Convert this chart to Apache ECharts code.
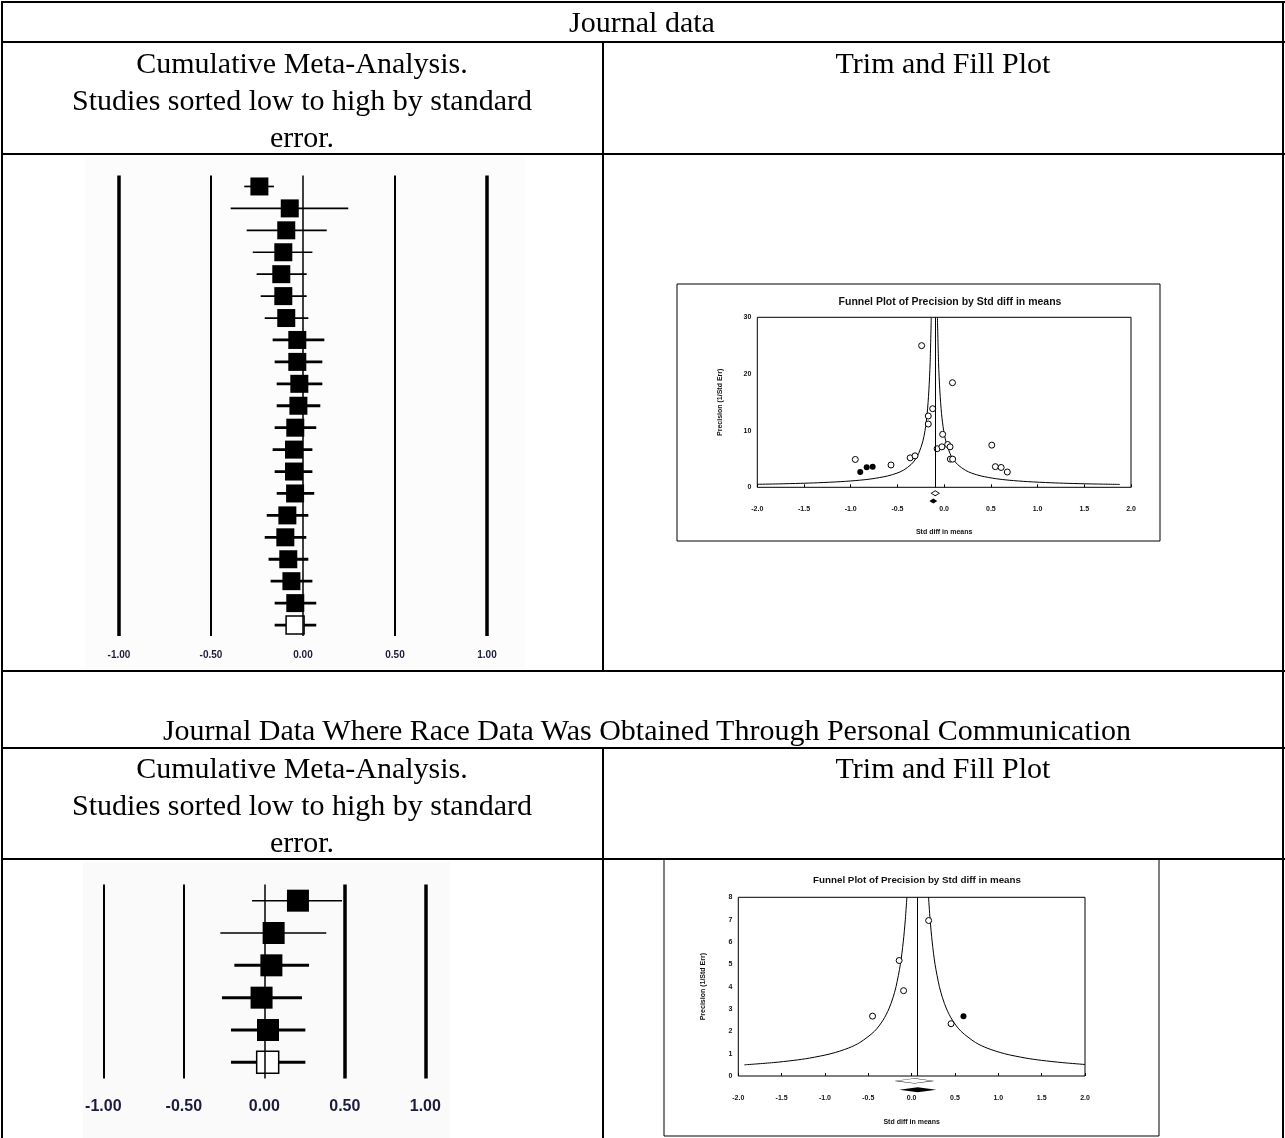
<!DOCTYPE html>
<html>
<head>
<meta charset="utf-8">
<script src="https://cdn.jsdelivr.net/npm/echarts@6/dist/echarts.min.js"></script>
<style>
html,body{margin:0;padding:0;background:#fff;}
#page{position:relative;width:1285px;height:1138px;overflow:hidden;font-family:"Liberation Serif","Times New Roman",serif;}
.ln{position:absolute;background:#000;}
.tx{position:absolute;text-align:center;font-size:30px;line-height:37px;color:#000;white-space:nowrap;}
#chart{position:absolute;left:0;top:0;width:1285px;height:1138px;pointer-events:none;}
</style>
</head>
<body>
<div id="page"><div id="chart"></div></div>
<script>
// ---- forest plot, journal data (cumulative, last row = summary) ----
const topRows = ['1','2','3','4','5','6','7','8','9','10','11','12','13','14','15','16','17','18','19','20','21'];
const topEst  = [-0.237,-0.072,-0.091,-0.107,-0.118,-0.107,-0.091,-0.031,-0.031,-0.020,-0.025,-0.042,-0.049,-0.049,-0.043,-0.085,-0.096,-0.080,-0.063,-0.042,-0.043];
const topLow  = [-0.319,-0.393,-0.306,-0.273,-0.252,-0.230,-0.208,-0.165,-0.154,-0.143,-0.143,-0.154,-0.165,-0.154,-0.143,-0.197,-0.208,-0.187,-0.176,-0.154,-0.154];
const topHigh = [-0.158,0.246,0.129,0.051,0.020,0.020,0.029,0.116,0.105,0.105,0.094,0.072,0.051,0.051,0.061,0.029,0.018,0.029,0.051,0.072,0.072];

// ---- forest plot, personal communication data ----
const botRows = ['1','2','3','4','5','6'];
const botEst  = [0.209,0.058,0.044,-0.017,0.023,0.021];
const botLow  = [-0.076,-0.273,-0.186,-0.263,-0.207,-0.207];
const botHigh = [0.483,0.385,0.278,0.234,0.255,0.255];

const forestTicks = [-1,-0.5,0,0.5,1];

// ---- funnel plot, journal data ----
const topOpen = [[-0.241,25.0],[0.089,18.46],[-0.123,13.87],[-0.170,12.58],[-0.170,11.17],[-0.016,9.35],[-0.075,6.81],[-0.024,7.14],[0.038,7.55],[0.063,7.14],[0.066,4.97],[0.091,4.97],[0.510,7.44],[0.548,3.64],[0.610,3.50],[0.676,2.70],[-0.951,4.91],[-0.569,3.94],[-0.364,5.20],[-0.312,5.55]];
const topFilled = [[-0.898,2.70],[-0.829,3.52],[-0.765,3.64]];
const topMean = -0.105;
const topFunnelLeft = [[-2.0,0.53],[-1.772,0.6],[-1.534,0.7],[-1.355,0.8],[-1.105,1.0],[-0.905,1.25],[-0.772,1.5],[-0.605,2.0],[-0.505,2.5],[-0.438,3.0],[-0.355,4.0],[-0.305,5.0],[-0.272,6.0],[-0.230,8.0],[-0.205,10],[-0.182,13],[-0.164,17],[-0.150,22],[-0.138,30]];
const topFunnelRight = [[-0.072,30],[-0.060,22],[-0.046,17],[-0.028,13],[-0.005,10],[0.020,8],[0.062,6],[0.095,5],[0.145,4],[0.228,3],[0.295,2.5],[0.395,2],[0.562,1.5],[0.695,1.25],[0.895,1],[1.145,0.8],[1.324,0.7],[1.562,0.6],[1.880,0.51]];
const topDiamondObs = [[-0.095,-1.06]];
const topDiamondAdj = [[-0.116,-2.42]];

// ---- funnel plot, personal communication data ----
const botOpen = [[0.196,6.96],[-0.144,5.17],[-0.093,3.82],[-0.451,2.68],[0.455,2.34]];
const botFilled = [[0.598,2.68]];
const botMean = 0.07;
const botFunnelLeft = [[-1.93,0.5],[-1.597,0.6],[-1.359,0.7],[-1.18,0.8],[-0.93,1],[-0.73,1.25],[-0.597,1.5],[-0.43,2],[-0.33,2.5],[-0.263,3],[-0.216,3.5],[-0.18,4],[-0.13,5],[-0.097,6],[-0.073,7],[-0.055,8]];
const botFunnelRight = [[0.195,8],[0.213,7],[0.237,6],[0.27,5],[0.32,4],[0.356,3.5],[0.403,3],[0.47,2.5],[0.57,2],[0.737,1.5],[0.87,1.25],[1.07,1],[1.32,0.8],[1.499,0.7],[1.737,0.6],[2.0,0.515]];
const botDiamondObs = [[0.031,-0.22]];
const botDiamondAdj = [[0.070,-0.61]];

// table lines and header text (plain html)
const page = document.getElementById('page');
function line(x, y, w, h) {
    let d = document.createElement('div');
    d.className = 'ln';
    d.style.left = x + 'px'; d.style.top = y + 'px';
    d.style.width = w + 'px'; d.style.height = h + 'px';
    page.appendChild(d);
}
function text(cx, top, w, html) {
    let d = document.createElement('div');
    d.className = 'tx';
    d.style.left = (cx - w / 2) + 'px'; d.style.top = top + 'px'; d.style.width = w + 'px';
    d.innerHTML = html;
    page.appendChild(d);
}
line(1, 1, 1284, 2);
line(1, 41, 1284, 2);
line(1, 153, 1284, 2);
line(1, 670, 1284, 2);
line(1, 747, 1284, 2);
line(1, 858, 1284, 2);
line(1, 1, 2, 1137);
line(1282, 1, 2, 1137);
line(602, 41, 2, 630);
line(602, 747, 2, 391);

text(642, 3, 400, 'Journal data');
text(302, 44, 600, 'Cumulative Meta-Analysis.<br>Studies sorted low to high by standard<br>error.');
text(943, 44, 600, 'Trim and Fill Plot');
text(647, 711, 1280, 'Journal Data Where Race Data Was Obtained Through Personal Communication');
text(302, 749, 600, 'Cumulative Meta-Analysis.<br>Studies sorted low to high by standard<br>error.');
text(943, 749, 600, 'Trim and Fill Plot');

// ---- charts ----
const labelColor = '#1c1c3c';
const sans = 'Liberation Sans';

// whiskers of the forest plot
function bars(rows, lo, hi, xi, thickFrom, thin, thick) {
    let data = [];
    for (let i = 0; i < rows.length; i++) {
        data.push([lo[i], hi[i], i]);
    }
    return {
        type: 'custom', xAxisIndex: xi, yAxisIndex: xi, silent: true,
        encode: { x: [0, 1], y: 2 },
        data: data,
        renderItem: function (params, api) {
            let a = api.coord([api.value(0), api.value(2)]);
            let b = api.coord([api.value(1), api.value(2)]);
            return {
                type: 'line',
                shape: { x1: a[0], y1: a[1], x2: b[0], y2: b[1] },
                style: { stroke: '#000', lineWidth: params.dataIndex >= thickFrom ? thick : thin }
            };
        }
    };
}

// boxes of the forest plot + the vertical reference lines
function squares(rows, est, xi, size, refLines) {
    let data = [];
    for (let i = 0; i < rows.length; i++) {
        // last row is the summary -> hollow box
        if (i == rows.length - 1) {
            data.push({ value: [est[i], i], itemStyle: { color: '#fff', borderColor: '#000', borderWidth: 1.5 } });
        } else {
            data.push([est[i], i]);
        }
    }
    return {
        type: 'scatter', xAxisIndex: xi, yAxisIndex: xi, silent: true,
        symbol: 'rect', symbolSize: size,
        itemStyle: { color: '#000', opacity: 1 },
        data: data, z: 3,
        markLine: {
            silent: true, symbol: 'none', label: { show: false },
            data: forestTicks.map((v, k) => ({ xAxis: v, lineStyle: { color: '#000', type: 'solid', width: refLines[k] } }))
        }
    };
}

function forestX(gi, fontSize, margin) {
    return {
        type: 'value', gridIndex: gi, min: -1, max: 1, interval: 0.5,
        axisLine: { show: false }, axisTick: { show: false }, splitLine: { show: false },
        axisLabel: { color: labelColor, fontFamily: sans, fontWeight: 'bold', fontSize: fontSize, margin: margin,
            formatter: v => v.toFixed(2) }
    };
}
function forestY(gi, rows) {
    return { type: 'category', gridIndex: gi, data: rows, inverse: true, show: false };
}

function funnelX(gi, margin, gap) {
    return {
        type: 'value', gridIndex: gi, min: -2, max: 2, interval: 0.5,
        axisLine: { show: false }, splitLine: { show: false },
        axisTick: { show: true, inside: true, length: 3, lineStyle: { color: '#000' } },
        axisLabel: { color: '#111', fontFamily: sans, fontWeight: 'bold', fontSize: 7, margin: margin,
            formatter: v => v.toFixed(1) },
        name: 'Std diff in means', nameLocation: 'middle', nameGap: gap,
        nameTextStyle: { color: '#111', fontFamily: sans, fontWeight: 'bold', fontSize: 7 }
    };
}
function funnelY(gi, max, interval, gap) {
    return {
        type: 'value', gridIndex: gi, min: 0, max: max, interval: interval,
        axisLine: { show: false }, axisTick: { show: false }, splitLine: { show: false },
        axisLabel: { color: '#111', fontFamily: sans, fontWeight: 'bold', fontSize: 7, margin: 6 },
        name: 'Precision (1/Std Err)', nameLocation: 'middle', nameGap: gap, nameRotate: 90,
        nameTextStyle: { color: '#111', fontFamily: sans, fontWeight: 'bold', fontSize: 7 }
    };
}

function funnelSeries(gi, open, filled, left, right, mean, obs, adj, dSize) {
    let line = (d) => ({
        type: 'line', xAxisIndex: gi, yAxisIndex: gi, data: d, silent: true,
        showSymbol: false, smooth: 0.3, lineStyle: { color: '#000', width: 1 }
    });
    return [
        line(left),
        Object.assign(line(right), {
            markLine: { silent: true, symbol: 'none', label: { show: false },
                lineStyle: { color: '#000', type: 'solid', width: 1 }, data: [{ xAxis: mean }] }
        }),
        { type: 'scatter', xAxisIndex: gi, yAxisIndex: gi, data: open, symbolSize: 6, silent: true, z: 4,
          itemStyle: { color: '#fff', borderColor: '#000', borderWidth: 1, opacity: 1 } },
        { type: 'scatter', xAxisIndex: gi, yAxisIndex: gi, data: filled, symbolSize: 6, silent: true, z: 4,
          itemStyle: { color: '#000', opacity: 1 } },
        { type: 'scatter', xAxisIndex: gi, yAxisIndex: gi, data: obs, symbol: 'diamond', symbolSize: dSize,
          clip: false, silent: true, itemStyle: { color: '#fff', borderColor: '#000', borderWidth: 0.8, opacity: 1 } },
        { type: 'scatter', xAxisIndex: gi, yAxisIndex: gi, data: adj, symbol: 'diamond', symbolSize: dSize,
          clip: false, silent: true, itemStyle: { color: '#000', opacity: 1 } }
    ];
}

var chart = echarts.init(document.getElementById('chart'), null, { renderer: 'canvas' });
var option = {
    animation: false,
    backgroundColor: 'transparent',
    grid: [
        { left: 119, top: 175.5, width: 368, height: 460.5 },
        { left: 103.3, top: 884.5, width: 322, height: 194 },
        { left: 757.3, top: 317.3, width: 373.7, height: 170, show: true, borderColor: '#000', borderWidth: 1, backgroundColor: 'transparent' },
        { left: 738.3, top: 897.3, width: 346.7, height: 178.7, show: true, borderColor: '#000', borderWidth: 1, backgroundColor: 'transparent' }
    ],
    xAxis: [forestX(0, 10, 14), forestX(1, 16, 20), funnelX(2, 18, 41), funnelX(3, 19, 43)],
    yAxis: [forestY(0, topRows), forestY(1, botRows), funnelY(2, 30, 10, 34), funnelY(3, 8, 1, 32)],
    graphic: [
        { type: 'rect', shape: { x: 85, y: 157, width: 440, height: 512 }, style: { fill: '#fcfcfc' }, z: -10 },
        { type: 'rect', shape: { x: 83, y: 862, width: 367, height: 276 }, style: { fill: '#fafafa' }, z: -10 },
        { type: 'rect', shape: { x: 677, y: 284, width: 483, height: 257 }, style: { fill: 'none', stroke: '#000', lineWidth: 1 } },
        { type: 'rect', shape: { x: 664, y: 859, width: 495, height: 277 }, style: { fill: 'none', stroke: '#000', lineWidth: 1 } },
        { type: 'text', x: 950, y: 302, style: { text: 'Funnel Plot of Precision by Std diff in means', fill: '#111',
            font: 'bold 10.5px "Liberation Sans"', textAlign: 'center', textVerticalAlign: 'middle' } },
        { type: 'text', x: 917, y: 880, style: { text: 'Funnel Plot of Precision by Std diff in means', fill: '#111',
            font: 'bold 9.8px "Liberation Sans"', textAlign: 'center', textVerticalAlign: 'middle' } }
    ],
    series: [
        bars(topRows, topLow, topHigh, 0, 7, 1.7, 2.8),
        squares(topRows, topEst, 0, 18, [3.5, 2, 1.5, 2, 3.5]),
        bars(botRows, botLow, botHigh, 1, 2, 1.5, 3),
        squares(botRows, botEst, 1, 22, [2, 2, 1.5, 3.5, 3.5])
    ].concat(
        funnelSeries(2, topOpen, topFilled, topFunnelLeft, topFunnelRight, topMean, topDiamondObs, topDiamondAdj, [8, 5]),
        funnelSeries(3, botOpen, botFilled, botFunnelLeft, botFunnelRight, botMean, botDiamondObs, botDiamondAdj, [37, 5])
    )
};
chart.setOption(option);
</script>
</body>
</html>
